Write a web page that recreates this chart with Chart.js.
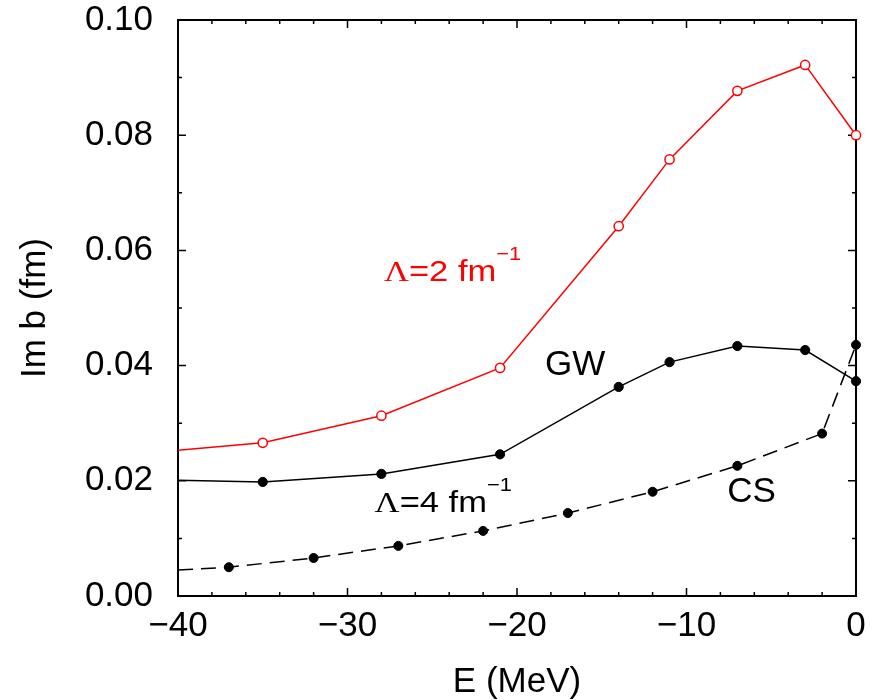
<!DOCTYPE html>
<html>
<head>
<meta charset="utf-8">
<script src="https://cdn.jsdelivr.net/npm/chart.js@4/dist/chart.umd.min.js"></script>
<style>
  body { margin: 0; background: #fff; }
  canvas { display: block; }
</style>
</head>
<body>
<canvas id="imbChart" width="888" height="700"></canvas>
<script>
// energies (MeV) and Im b (fm)
const energyGW = [-40, -35, -28, -21, -14, -11, -7, -3, 0];
const imbLambda2 = [0.0253, 0.0266, 0.0313, 0.0396, 0.0642, 0.0758, 0.0877, 0.0922, 0.0800];
const imbLambda4 = [0.0201, 0.0198, 0.0212, 0.0246, 0.0363, 0.0406, 0.0434, 0.0427, 0.0373];
const energyCS = [-40, -37, -32, -27, -22, -17, -12, -7, -2, 0];
const imbCS = [0.0045, 0.0050, 0.0066, 0.0087, 0.0113, 0.0144, 0.0181, 0.0226, 0.0282, 0.0436];

// curve labels, placed in data units (left edge, baseline)
const curveLabels = [
    { lambda: true, text: '=2 fm', sup: '\u22121', x: -27.85, y: 0.0547, color: '#ff0000' },
    { lambda: false, text: 'GW', sup: '', x: -18.35, y: 0.0384, color: '#000' },
    { lambda: true, text: '=4 fm', sup: '\u22121', x: -28.4, y: 0.0146, color: '#000' },
    { lambda: false, text: 'CS', sup: '', x: -7.6, y: 0.0164, color: '#000' }
];

const SANS = "'Liberation Sans', Arial, sans-serif";
Chart.defaults.font.family = SANS;
Chart.defaults.color = '#000';

function toPoints(xs, ys) {
    return xs.map((x, i) => ({ x: x, y: ys[i] }));
}
// no marker on the point at the left edge (line just runs off the frame)
function radii(xs, r) {
    return xs.map(x => (x === -40 ? 0 : r));
}

// frame with inward ticks on all four sides, plus the curve labels
const framePlugin = {
    id: 'framePlugin',
    beforeDatasetsDraw(chart) {
        const { ctx, chartArea: a, scales: { x, y } } = chart;
        ctx.save();
        ctx.strokeStyle = '#000';
        ctx.lineWidth = 2;
        ctx.strokeRect(a.left, a.top, a.right - a.left, a.bottom - a.top);
        ctx.lineWidth = 1.5;
        ctx.beginPath();
        x.ticks.forEach(t => {
            const px = x.getPixelForValue(t.value);
            const len = Math.round(t.value) % 10 === 0 ? 8 : 4;
            ctx.moveTo(px, a.bottom); ctx.lineTo(px, a.bottom - len);
            ctx.moveTo(px, a.top); ctx.lineTo(px, a.top + len);
        });
        y.ticks.forEach(t => {
            const py = y.getPixelForValue(t.value);
            const len = Math.round(t.value * 100) % 2 === 0 ? 8 : 4;
            ctx.moveTo(a.left, py); ctx.lineTo(a.left + len, py);
            ctx.moveTo(a.right, py); ctx.lineTo(a.right - len, py);
        });
        ctx.stroke();
        ctx.restore();
    },
    afterDatasetsDraw(chart) {
        const { ctx, scales: { x, y } } = chart;
        ctx.textBaseline = 'alphabetic';
        ctx.textAlign = 'left';
        curveLabels.forEach(l => {
            const px = x.getPixelForValue(l.x);
            const py = y.getPixelForValue(l.y);
            ctx.save();
            ctx.fillStyle = l.color;
            if (l.lambda) {
                // the Lambda labels are set in a slightly wide face
                ctx.translate(px, py);
                ctx.scale(1.15, 1);
                let cx = 0;
                ctx.font = "30px 'Liberation Serif', 'Times New Roman', serif";
                ctx.fillText('\u039B', cx, 0);
                cx += ctx.measureText('\u039B').width;
                ctx.font = '30px ' + SANS;
                ctx.fillText(l.text, cx, 0);
                cx += ctx.measureText(l.text).width;
                ctx.font = '19px ' + SANS;
                ctx.fillText(l.sup, cx, -21);
            } else {
                ctx.font = '35px ' + SANS;
                ctx.fillText(l.text, px, py);
            }
            ctx.restore();
        });
    }
};

const ctx = document.getElementById('imbChart').getContext('2d');
const imbChart = new Chart(ctx, {
    type: 'scatter',
    data: {
        datasets: [
            {
                label: 'Lambda=2 fm^-1',
                data: toPoints(energyGW, imbLambda2),
                showLine: true,
                borderColor: '#ff0000',
                borderWidth: 1.5,
                pointRadius: radii(energyGW, 4.6),
                pointBackgroundColor: '#fff',
                pointBorderColor: '#ff0000',
                pointBorderWidth: 1.5,
                clip: false
            },
            {
                label: 'GW Lambda=4 fm^-1',
                data: toPoints(energyGW, imbLambda4),
                showLine: true,
                borderColor: '#000',
                borderWidth: 1.5,
                pointRadius: radii(energyGW, 4.6),
                pointBackgroundColor: '#000',
                pointBorderColor: '#000',
                pointBorderWidth: 1,
                clip: false
            },
            {
                label: 'CS',
                data: toPoints(energyCS, imbCS),
                showLine: true,
                borderColor: '#000',
                borderWidth: 1.5,
                borderDash: [15, 8],
                pointRadius: radii(energyCS, 4.5),
                pointBackgroundColor: '#000',
                pointBorderColor: '#000',
                pointBorderWidth: 1,
                clip: false
            }
        ]
    },
    options: {
        responsive: false,
        animation: false,
        layout: { padding: { left: 0, right: 32, top: 20, bottom: 0 } },
        plugins: {
            legend: { display: false },
            tooltip: { enabled: false }
        },
        scales: {
            x: {
                type: 'linear',
                min: -40,
                max: 0,
                grid: { display: false, drawTicks: false },
                border: { display: false },
                ticks: {
                    stepSize: 2,
                    autoSkip: false,
                    maxRotation: 0,
                    padding: 9,
                    font: { size: 35 },
                    callback: v => (Math.round(v) % 10 === 0 ? (v < 0 ? '\u2212' + Math.abs(v) : '0') : '')
                },
                title: {
                    display: true,
                    text: 'E (MeV)',
                    font: { size: 35, lineHeight: 1 },
                    padding: 0
                },
                afterFit: s => { s.height = 104; s.paddingLeft = 0; s.paddingRight = 0; }
            },
            y: {
                type: 'linear',
                min: 0,
                max: 0.1,
                grid: { display: false, drawTicks: false },
                border: { display: false },
                ticks: {
                    stepSize: 0.01,
                    autoSkip: false,
                    padding: 25,
                    font: { size: 35 },
                    callback: v => (Math.round(v * 100) % 2 === 0 ? v.toFixed(2) : '')
                },
                title: {
                    display: true,
                    text: 'Im b (fm)',
                    font: { size: 35, lineHeight: 1 },
                    padding: { top: 18, bottom: 0 }
                },
                afterFit: s => { s.width = 178; s.paddingTop = 0; s.paddingBottom = 0; }
            }
        }
    },
    plugins: [framePlugin]
});
</script>
</body>
</html>
